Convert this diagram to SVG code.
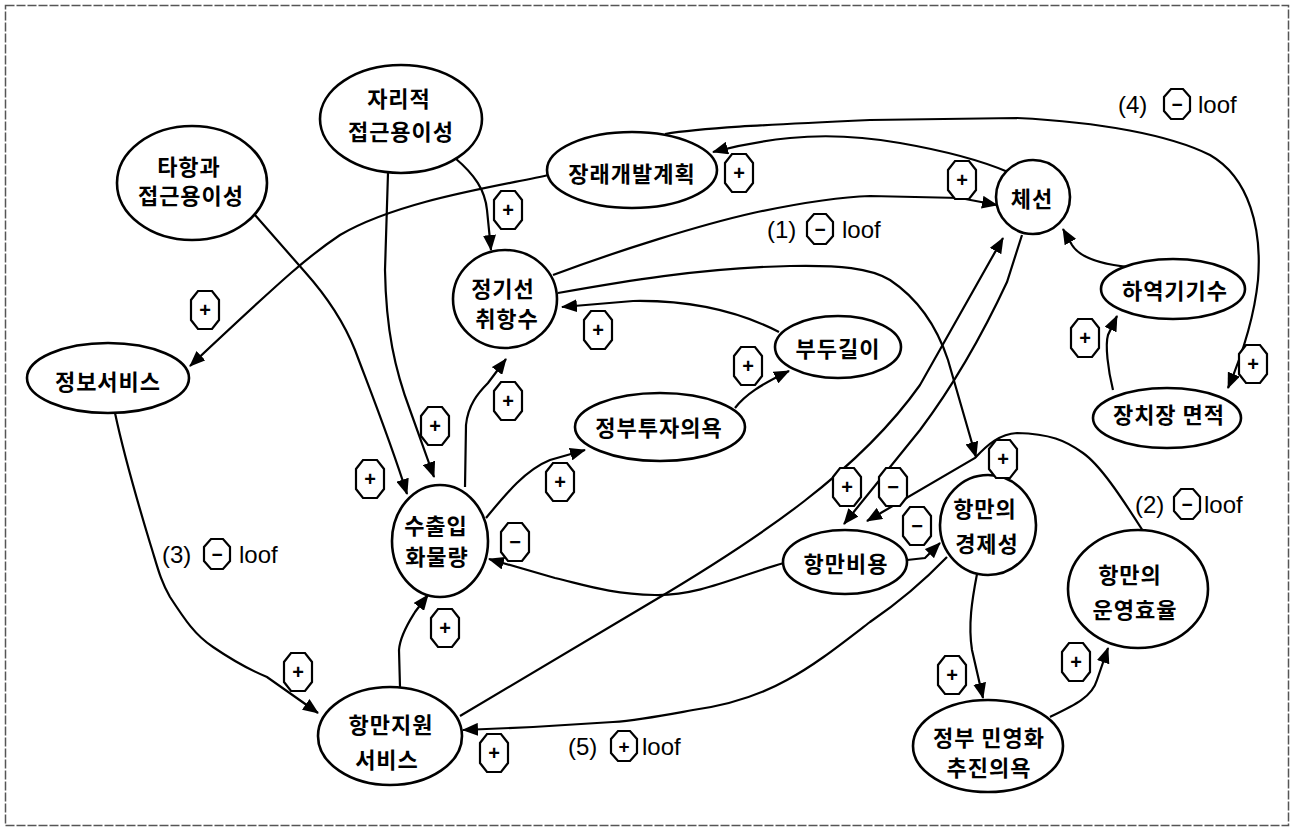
<svg xmlns="http://www.w3.org/2000/svg" width="1294" height="828" viewBox="0 0 1294 828">
  <style>
    .frame { fill: none; stroke: #555; stroke-width: 1.5; stroke-dasharray: 9 2; }
    .node ellipse { fill: #fff; stroke: #000; stroke-width: 2.6; }
    .node text { font-family: "Noto Sans CJK KR", "Noto Sans", sans-serif; font-size: 22px; font-weight: 700; letter-spacing: 1px; text-anchor: middle; dominant-baseline: central; fill: #000; }
    .edges path { fill: none; stroke: #000; stroke-width: 2.2; marker-end: url(#ah); }
    .sign text { font-family: "Liberation Sans", Arial, sans-serif; font-size: 20px; font-weight: 700; text-anchor: middle; dominant-baseline: central; fill: #000; }
    .loop text { font-family: "Liberation Sans", Arial, sans-serif; font-size: 24px; fill: #000; }
    .loop text.s { font-size: 19px; font-weight: 700; text-anchor: middle; dominant-baseline: central; }
  </style>
  <defs>
    <marker id="ah" viewBox="0 0 16 13" refX="15" refY="6.5" markerWidth="16" markerHeight="13" markerUnits="userSpaceOnUse" orient="auto">
      <path d="M0,0 L16,6.5 L0,13 z" fill="#000"/>
    </marker>
    <polygon id="oct" points="-7,-19 7,-19 14,-10 14,10 7,19 -7,19 -14,10 -14,-10" fill="#fff" stroke="#000" stroke-width="2.2"/>
    <polygon id="octs" points="-6,-15 6,-15 13,-7 13,7 6,15 -6,15 -13,7 -13,-7" fill="#fff" stroke="#000" stroke-width="2.2"/>
  </defs>

  <rect class="frame" x="5.5" y="5.5" width="1283" height="820"/>

  <!-- causal links -->
  <g id="connectors" class="edges">
    <path id="e-geo-liner" d="M455,158 C475,175 485,190 487,210 L491,250"/>
    <path id="e-geo-cargo" d="M388,173 L385,270 C386,330 395,370 410,410 L434,477"/>
    <path id="e-other-cargo" d="M255,215 L305,272 C330,300 345,325 355,350 C370,390 390,440 407,494"/>
    <path id="e-plan-info" d="M549,175 C500,186 400,200 340,235 C310,255 290,272 190,366"/>
    <path id="e-cong-plan" d="M1008,172 C980,160 940,150 900,143 C860,136 820,135 790,138 C760,141 735,146 713,152"/>
    <path id="e-plan-yard" d="M665,134 C700,128 760,125 870,120 L1017,118 C1100,122 1170,135 1210,155 C1250,178 1262,230 1258,280 C1254,320 1242,355 1228,388"/>
    <path id="e-liner-cong" d="M553,275 C620,250 700,225 753,213 C800,203 840,197 870,196 L960,198 L997,205"/>
    <path id="e-liner-econ" d="M558,293 C620,282 700,268 790,266 C840,265 870,268 890,280 C920,300 938,330 948,360 L976,457"/>
    <path id="e-berth-liner" d="M779,332 C740,312 690,300 633,301 L562,307"/>
    <path id="e-invest-berth" d="M735,408 C745,395 760,385 789,371"/>
    <path id="e-cargo-invest" d="M486,518 C505,495 525,470 550,460 L585,450"/>
    <path id="e-cargo-liner" d="M465,487 L466,425 C468,405 478,393 488,383 L506,359"/>
    <path id="e-equip-cong" d="M1128,267 C1100,264 1080,258 1072,245 L1063,229"/>
    <path id="e-yard-equip" d="M1113,390 C1108,370 1105,345 1108,335 L1117,316"/>
    <path id="e-cost-cargo" d="M784,563 C740,575 700,596 655,595 C610,594 585,585 555,578 L489,559"/>
    <path id="e-cong-cost" d="M1022,235 L1007,282 C980,340 950,390 920,430 L844,524"/>
    <path id="e-support-cong" d="M460,716 L650,603 C760,538 860,470 920,385 L1003,238"/>
    <path id="e-eff-cost" d="M1143,531 C1120,495 1100,465 1083,453 C1065,440 1050,434 1017,433 C1000,434 988,444 975,458 L867,521"/>
    <path id="e-cost-econ" d="M907,560 L925,558 L940,543"/>
    <path id="e-econ-support" d="M947,557 C920,585 895,605 870,622 C840,645 815,665 787,680 C760,695 730,705 693,710 C660,716 640,720 613,722 L533,727 L463,730"/>
    <path id="e-econ-priv" d="M977,574 C972,600 968,625 972,650 L983,698"/>
    <path id="e-priv-eff" d="M1050,717 C1075,705 1092,697 1097,680 L1108,648"/>
    <path id="e-info-support" d="M115,413 C125,460 140,510 150,543 C157,565 160,580 170,597 C185,620 195,635 213,647 C235,662 250,670 267,677 L318,713"/>
    <path id="e-support-cargo" d="M400,687 L399,650 C400,635 410,620 415,612 L428,595"/>
  </g>

  <!-- variables -->
  <g id="n-geo" class="node"><ellipse cx="401" cy="119" rx="81" ry="54"/><text x="399" y="97">자리적</text><text x="401" y="130">접근용이성</text></g>
  <g id="n-other" class="node"><ellipse cx="192" cy="183" rx="75" ry="57"/><text x="189" y="165">타항과</text><text x="191" y="194">접근용이성</text></g>
  <g id="n-plan" class="node"><ellipse cx="632" cy="170" rx="85" ry="38"/><text x="632" y="172">장래개발계획</text></g>
  <g id="n-cong" class="node"><ellipse cx="1033" cy="197" rx="37" ry="37"/><text x="1032" y="197">체선</text></g>
  <g id="n-liner" class="node"><ellipse cx="505" cy="299" rx="52" ry="49"/><text x="503" y="287">정기선</text><text x="507" y="317">취항수</text></g>
  <g id="n-berth" class="node"><ellipse cx="838" cy="347" rx="63" ry="31"/><text x="838" y="347">부두길이</text></g>
  <g id="n-equip" class="node"><ellipse cx="1173" cy="289" rx="72" ry="30"/><text x="1175" y="289">하역기기수</text></g>
  <g id="n-yard" class="node"><ellipse cx="1167" cy="418" rx="74" ry="30"/><text x="1169" y="413">장치장 면적</text></g>
  <g id="n-info" class="node"><ellipse cx="108" cy="378" rx="81" ry="35"/><text x="108" y="380">정보서비스</text></g>
  <g id="n-invest" class="node"><ellipse cx="660" cy="427" rx="85" ry="34"/><text x="659" y="426">정부투자의욕</text></g>
  <g id="n-cargo" class="node"><ellipse cx="440" cy="541" rx="48" ry="56"/><text x="436" y="524">수출입</text><text x="437" y="555">화물량</text></g>
  <g id="n-cost" class="node"><ellipse cx="845" cy="562" rx="62" ry="32"/><text x="846" y="562">항만비용</text></g>
  <g id="n-econ" class="node"><ellipse cx="988" cy="525" rx="48" ry="50"/><text x="985" y="507">항만의</text><text x="987" y="542">경제성</text></g>
  <g id="n-eff" class="node"><ellipse cx="1138" cy="589" rx="70" ry="59"/><text x="1130" y="573">항만의</text><text x="1135" y="608">운영효율</text></g>
  <g id="n-priv" class="node"><ellipse cx="988" cy="746" rx="75" ry="46"/><text x="989" y="736">정부 민영화</text><text x="989" y="766">추진의욕</text></g>
  <g id="n-support" class="node"><ellipse cx="390" cy="736" rx="72" ry="49"/><text x="391" y="723">항만지원</text><text x="387" y="758">서비스</text></g>

  <!-- link polarities -->
  <g id="signs">
    <g class="sign" transform="translate(739,173)"><use href="#oct"/><text>+</text></g>
    <g class="sign" transform="translate(508,210)"><use href="#oct"/><text>+</text></g>
    <g class="sign" transform="translate(962,180)"><use href="#oct"/><text>+</text></g>
    <g class="sign" transform="translate(598,330)"><use href="#oct"/><text>+</text></g>
    <g class="sign" transform="translate(205,310)"><use href="#oct"/><text>+</text></g>
    <g class="sign" transform="translate(1085,338)"><use href="#oct"/><text>+</text></g>
    <g class="sign" transform="translate(1253,364)"><use href="#oct"/><text>+</text></g>
    <g class="sign" transform="translate(748,366)"><use href="#oct"/><text>+</text></g>
    <g class="sign" transform="translate(508,401)"><use href="#oct"/><text>+</text></g>
    <g class="sign" transform="translate(435,426)"><use href="#oct"/><text>+</text></g>
    <g class="sign" transform="translate(370,479)"><use href="#oct"/><text>+</text></g>
    <g class="sign" transform="translate(560,482)"><use href="#oct"/><text>+</text></g>
    <g class="sign" transform="translate(515,542)"><use href="#oct"/><text>−</text></g>
    <g class="sign" transform="translate(847,487)"><use href="#oct"/><text>+</text></g>
    <g class="sign" transform="translate(893,487)"><use href="#oct"/><text>−</text></g>
    <g class="sign" transform="translate(917,526)"><use href="#oct"/><text>−</text></g>
    <g class="sign" transform="translate(1003,459)"><use href="#oct"/><text>+</text></g>
    <g class="sign" transform="translate(445,628)"><use href="#oct"/><text>+</text></g>
    <g class="sign" transform="translate(298,672)"><use href="#oct"/><text>+</text></g>
    <g class="sign" transform="translate(494,753)"><use href="#oct"/><text>+</text></g>
    <g class="sign" transform="translate(952,675)"><use href="#oct"/><text>+</text></g>
    <g class="sign" transform="translate(1076,662)"><use href="#oct"/><text>+</text></g>
  </g>

  <!-- loop labels -->
  <g id="loops" class="loop">
    <g id="loop1"><text x="767" y="238">(1)</text><use href="#octs" x="820" y="229"/><text class="s" x="820" y="229">−</text><text x="842" y="238">loof</text></g>
    <g id="loop2"><text x="1135" y="513">(2)</text><use href="#octs" x="1187" y="504"/><text class="s" x="1187" y="504">−</text><text x="1204" y="513">loof</text></g>
    <g id="loop3"><text x="162" y="563">(3)</text><use href="#octs" x="217" y="554"/><text class="s" x="217" y="554">−</text><text x="239" y="563">loof</text></g>
    <g id="loop4"><text x="1118" y="113">(4)</text><use href="#octs" x="1177" y="104"/><text class="s" x="1177" y="104">−</text><text x="1198" y="113">loof</text></g>
    <g id="loop5"><text x="568" y="755">(5)</text><use href="#octs" x="624" y="746"/><text class="s" x="624" y="746">+</text><text x="642" y="755">loof</text></g>
  </g>
</svg>
